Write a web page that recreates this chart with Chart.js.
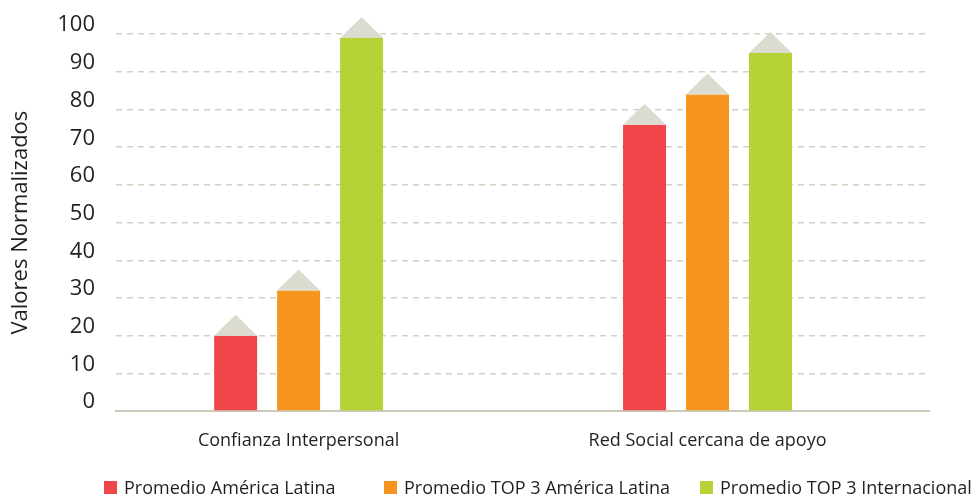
<!DOCTYPE html>
<html lang="es">
<head>
<meta charset="utf-8">
<script src="https://cdn.jsdelivr.net/npm/chart.js@4.4.1/dist/chart.umd.min.js"></script>
<style>
  html, body { margin:0; padding:0; background:#fff; }
  #wrap { position:relative; width:975px; height:498px; }
  #legend { position:absolute; left:0; top:477px; width:975px; height:20px; font-family:'Open Sans', sans-serif; font-size:18px; color:#231f20; }
  #legend .item { position:absolute; top:0; height:20px; display:flex; align-items:center; white-space:nowrap; }
  #legend .box { width:13px; height:13px; margin-right:7px; }
</style>
</head>
<body>
<div id="wrap">
  <canvas id="chart" width="975" height="498"></canvas>
  <div id="legend"></div>
</div>
<script>
const categories = ['Confianza Interpersonal', 'Red Social cercana de apoyo'];
const seriesNames = ['Promedio América Latina', 'Promedio TOP 3 América Latina', 'Promedio TOP 3 Internacional'];
const latamAvg = [20, 76];
const latamTop3 = [32, 84];
const intlTop3 = [99, 95];
const yTicks = [0, 10, 20, 30, 40, 50, 60, 70, 80, 90, 100];

const COLORS = ['#f0464a', '#f7941f', '#b5d334'];
const CAP_COLOR = '#dcdbd0';
const GRID_COLOR = '#d2d0c2';
const TEXT = '#231f20';
const FONT = "'Open Sans', sans-serif";
const legendLeft = [104, 384, 700];

// grey roof on top of every bar
const roofPlugin = {
  id: 'roofs',
  afterDatasetsDraw(chart) {
    const ctx = chart.ctx;
    ctx.save();
    ctx.fillStyle = CAP_COLOR;
    chart.data.datasets.forEach((ds, i) => {
      chart.getDatasetMeta(i).data.forEach(bar => {
        const half = bar.width / 2;
        ctx.beginPath();
        ctx.moveTo(bar.x - half, bar.y);
        ctx.lineTo(bar.x, bar.y - 21);
        ctx.lineTo(bar.x + half, bar.y);
        ctx.closePath();
        ctx.fill();
      });
    });
    ctx.restore();
  }
};

const seriesValues = [latamAvg, latamTop3, intlTop3];
const datasets = seriesValues.map((vals, i) => ({
  label: seriesNames[i],
  data: vals.map((v, k) => ({ x: k, y: v })),
  backgroundColor: COLORS[i],
  borderWidth: 0,
  categoryPercentage: 0.462,
  barPercentage: 0.6825
}));

const chart = new Chart(document.getElementById('chart'), {
  type: 'bar',
  data: { datasets },
  plugins: [roofPlugin],
  options: {
    responsive: false,
    animation: false,
    layout: { padding: { top: 34, right: 46, bottom: 30, left: 0 } },
    plugins: { legend: { display: false }, tooltip: { enabled: false } },
    scales: {
      x: {
        type: 'linear',
        offset: false,
        min: -0.4465,
        max: 1.5416,
        afterBuildTicks: s => { s.ticks = categories.map((_, i) => ({ value: i })); },
        afterFit: s => { s.height = 57; },
        grid: { display: false, drawTicks: false, offset: false },
        border: { display: true, color: '#cdc9b9', width: 2 },
        ticks: { padding: 19, color: TEXT, font: { family: FONT, size: 18 }, maxRotation: 0, autoSkip: false, callback: v => categories[v] }
      },
      y: {
        min: 0,
        max: 100,
        afterBuildTicks: s => { s.ticks = yTicks.map(v => ({ value: v })); },
        afterFit: s => { s.width = 116; },
        grid: { color: GRID_COLOR, lineWidth: 1.5, drawTicks: false },
        border: { display: false, dash: [6, 5] },
        ticks: { padding: 21, labelOffset: -9, color: TEXT, font: { family: FONT, size: 22 } },
        title: { display: true, text: 'Valores Normalizados', color: TEXT, font: { family: FONT, size: 22 }, padding: { top: 8, bottom: 0 } }
      }
    }
  }
});

// legend built from the datasets
const legendEl = document.getElementById('legend');
chart.data.datasets.forEach((ds, i) => {
  const item = document.createElement('div');
  item.className = 'item';
  item.style.left = legendLeft[i] + 'px';
  item.innerHTML = '<span class="box" style="background:' + ds.backgroundColor + '"></span><span>' + ds.label + '</span>';
  legendEl.appendChild(item);
});
</script>
</body>
</html>
